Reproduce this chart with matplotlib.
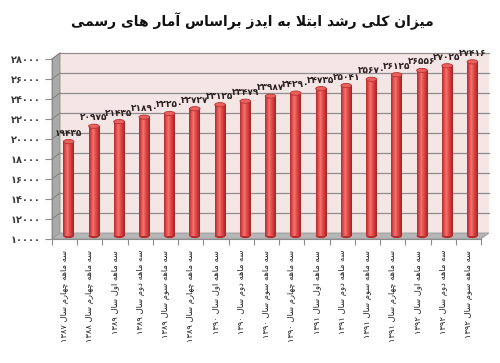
import matplotlib
matplotlib.use("Agg")
import matplotlib.pyplot as plt
from matplotlib.patches import Polygon, Rectangle, Ellipse
from matplotlib.colors import LinearSegmentedColormap
import numpy as np

title = "میزان کلی رشد ابتلا به ایدز براساس آمار های رسمی"
quarters = [
    "سه ماهه چهارم سال ۱۳۸۷",
    "سه ماهه چهارم سال ۱۳۸۸",
    "سه ماهه اول سال ۱۳۸۹",
    "سه ماهه دوم سال ۱۳۸۹",
    "سه ماهه سوم سال ۱۳۸۹",
    "سه ماهه چهارم سال ۱۳۸۹",
    "سه ماهه اول سال ۱۳۹۰",
    "سه ماهه دوم سال ۱۳۹۰",
    "سه ماهه سوم سال ۱۳۹۰",
    "سه ماهه چهارم سال ۱۳۹۰",
    "سه ماهه اول سال ۱۳۹۱",
    "سه ماهه دوم سال ۱۳۹۱",
    "سه ماهه سوم سال ۱۳۹۱",
    "سه ماهه چهارم سال ۱۳۹۱",
    "سه ماهه اول سال ۱۳۹۲",
    "سه ماهه دوم سال ۱۳۹۲",
    "سه ماهه سوم سال ۱۳۹۲",
]
values = [19435, 20975, 21435, 21890, 22250, 22727, 23125, 23479, 23987,
          24290, 24735, 25041, 25670, 26125, 26556, 27025, 27416]
y_ticks = list(range(10000, 28001, 2000))

# presentation forms: isolated, final, initial, medial
FORMS = {
    'ا': ('\uFE8D', '\uFE8E'),
    'آ': ('\uFE81', '\uFE82'),
    'ب': ('\uFE8F', '\uFE90', '\uFE91', '\uFE92'),
    'ت': ('\uFE95', '\uFE96', '\uFE97', '\uFE98'),
    'د': ('\uFEA9', '\uFEAA'),
    'ر': ('\uFEAD', '\uFEAE'),
    'ز': ('\uFEAF', '\uFEB0'),
    'س': ('\uFEB1', '\uFEB2', '\uFEB3', '\uFEB4'),
    'ش': ('\uFEB5', '\uFEB6', '\uFEB7', '\uFEB8'),
    'ل': ('\uFEDD', '\uFEDE', '\uFEDF', '\uFEE0'),
    'م': ('\uFEE1', '\uFEE2', '\uFEE3', '\uFEE4'),
    'ن': ('\uFEE5', '\uFEE6', '\uFEE7', '\uFEE8'),
    'ه': ('\uFEE9', '\uFEEA', '\uFEEB', '\uFEEC'),
    'و': ('\uFEED', '\uFEEE'),
    'ک': ('\uFB8E', '\uFB8F', '\uFB90', '\uFB91'),
    'ی': ('\uFBFC', '\uFBFD', '\uFBFE', '\uFBFF'),
    'چ': ('\uFB7A', '\uFB7B', '\uFB7C', '\uFB7D'),
}
LAM_ALEF = {'ا': ('\uFEFB', '\uFEFC'), 'آ': ('\uFEF5', '\uFEF6')}
FA_DIGITS = '۰۱۲۳۴۵۶۷۸۹'


def fa_num(n):
    return ''.join(FA_DIGITS[int(d)] for d in str(n))


def rtl(text):
    # join letters, then put them in visual (left to right) order
    out = []
    i = 0
    while i < len(text):
        c = text[i]
        if c not in FORMS:
            out.append(c)
            i += 1
            continue
        prev = text[i - 1] if i > 0 else ''
        jp = prev in FORMS and len(FORMS[prev]) == 4
        if c == 'ل' and i + 1 < len(text) and text[i + 1] in LAM_ALEF:
            out.append(LAM_ALEF[text[i + 1]][1 if jp else 0])
            i += 2
            continue
        nxt = text[i + 1] if i + 1 < len(text) else ''
        f = FORMS[c]
        jn = len(f) == 4 and nxt in FORMS
        if jp and jn:
            g = f[3]
        elif jp:
            g = f[1]
        elif jn:
            g = f[2]
        else:
            g = f[0]
        out.append(g)
        i += 1
    tokens = []
    for g in out:
        if g in FA_DIGITS and tokens and tokens[-1][-1] in FA_DIGITS:
            tokens[-1] += g
        else:
            tokens.append(g)
    return ''.join(tokens[::-1])


plt.rcParams['font.family'] = ['DejaVu Sans']

fig = plt.figure(figsize=(5, 3.63), dpi=100)
ax = fig.add_axes([0.104, 0.3416, 0.858, 0.4959])
n = len(values)

# depth of the 3d box in data units
ax_w = 0.858 * 500
ax_h = 0.4959 * 363
ddx = 8 / (ax_w / n)
ddy = 6 / (ax_h / 18000)

wall = '#f5e6e6'
ax.add_patch(Rectangle((ddx, 10000 + ddy), n, 18000, facecolor=wall,
                       edgecolor='none', clip_on=False, zorder=0))
ax.add_patch(Polygon([(0, 10000), (ddx, 10000 + ddy), (ddx, 28000 + ddy), (0, 28000)],
                     facecolor='#a9a9a9', edgecolor='#8c8c8c', lw=0.6,
                     clip_on=False, zorder=0.5))
ax.add_patch(Polygon([(0, 10000), (n, 10000), (n + ddx, 10000 + ddy), (ddx, 10000 + ddy)],
                     facecolor='#b5b5b5', edgecolor='#9a9a9a', lw=0.6,
                     clip_on=False, zorder=0.5))
for t in y_ticks[1:]:
    ax.plot([ddx, n + ddx], [t + ddy, t + ddy], color='#8e8e8e', lw=0.9,
            clip_on=False, zorder=0.6)
    ax.plot([0, ddx], [t, t + ddy], color='#808080', lw=0.7,
            clip_on=False, zorder=0.6)

cyl = LinearSegmentedColormap.from_list(
    'cyl', ['#b02c2c', '#e24a4a', '#f07572', '#e44c4a', '#c83636', '#a02424'])
grad = np.linspace(0, 1, 64).reshape(1, -1)
bw = 0.42
eh = 420
for i, v in enumerate(values):
    xc = i + 0.5 + ddx / 2
    y0 = 10000 + ddy / 2
    y1 = v + ddy / 2
    ax.add_patch(Ellipse((xc, y0), bw, eh, facecolor='#b52c2c',
                         edgecolor='none', zorder=2))
    ax.imshow(grad, cmap=cyl, extent=[xc - bw / 2, xc + bw / 2, y0, y1],
              aspect='auto', zorder=2.1)
    ax.add_patch(Ellipse((xc, y1), bw, eh, facecolor='#ea625e',
                         edgecolor='#b83232', lw=0.6, zorder=2.2))
    ax.annotate(fa_num(v), (xc, y1), xytext=(0, 4), textcoords='offset pixels',
                ha='center', va='bottom', fontsize=6.5, fontweight='bold',
                color='#2b2020', zorder=3, annotation_clip=False)

ax.set_xlim(0, n)
ax.set_ylim(10000, 28000)

for s in ['top', 'right']:
    ax.spines[s].set_visible(False)
for s in ['left', 'bottom']:
    ax.spines[s].set_color('#8c8c8c')
    ax.spines[s].set_linewidth(0.8)

ax.set_yticks(y_ticks)
ax.set_yticklabels([fa_num(t) for t in y_ticks], fontsize=7,
                   fontweight='bold', color='#3a3a3a')
ax.set_xticks(np.arange(n + 1))
ax.set_xticklabels([])
ax.tick_params(axis='y', length=5, color='#8c8c8c', pad=3)
ax.tick_params(axis='x', length=4, color='#8c8c8c')

for i, q in enumerate(quarters):
    ax.annotate(rtl(q), (i + 0.5, 10000), xytext=(0, -11),
                textcoords='offset pixels', rotation=90, ha='center',
                va='top', fontsize=6, color='#222222', annotation_clip=False)

fig.text(0.504, 1 - 21 / 363, rtl(title), ha='center', va='center',
         fontsize=10, fontweight='bold', color='#111111')

fig.savefig('out.png', dpi=100)
